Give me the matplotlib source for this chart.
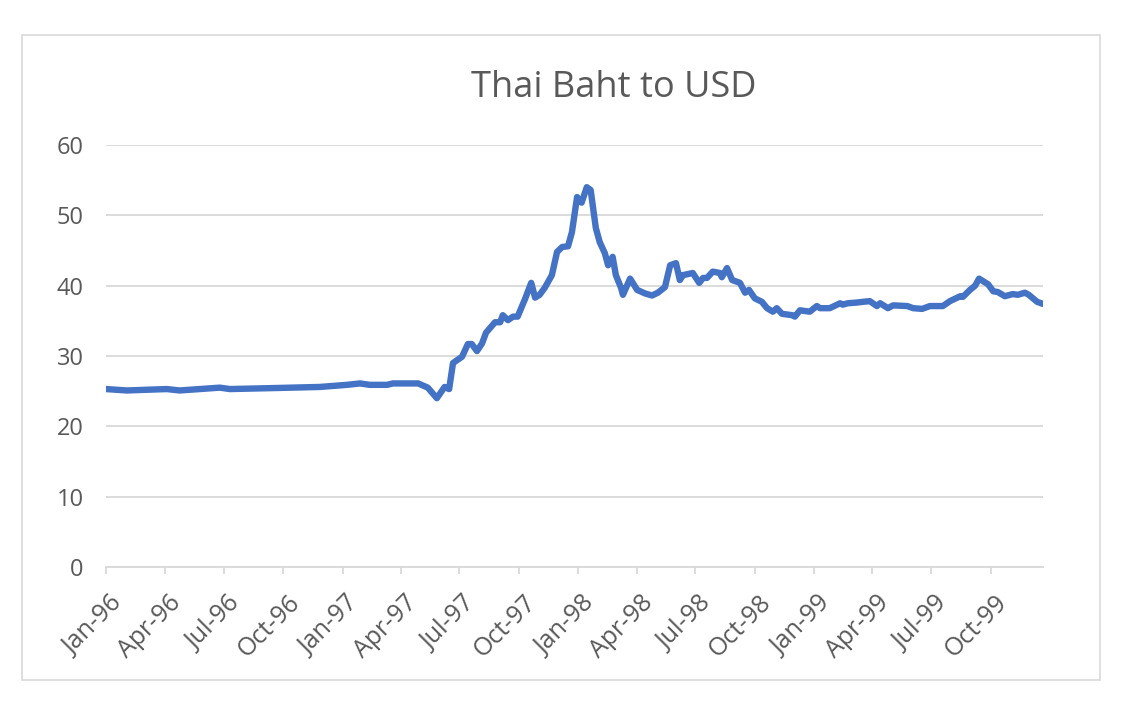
import matplotlib
matplotlib.use("Agg")
import matplotlib.pyplot as plt
import matplotlib.dates as mdates
from matplotlib.patches import Rectangle
from matplotlib.transforms import ScaledTranslation
import pandas as pd

# Data (weekly exchange rate, key points)
dates = [
    "1996-01-01", "1996-02-02", "1996-04-04", "1996-04-24", "1996-05-25", "1996-06-25",
    "1996-07-11", "1996-09-21", "1996-11-27", "1997-01-08", "1997-01-28", "1997-02-12",
    "1997-03-11", "1997-03-20", "1997-04-28", "1997-05-13", "1997-05-27", "1997-06-08",
    "1997-06-15", "1997-06-21", "1997-07-05", "1997-07-14", "1997-07-20", "1997-07-28",
    "1997-08-05", "1997-08-11", "1997-08-25", "1997-09-02", "1997-09-06", "1997-09-14",
    "1997-09-22", "1997-09-29", "1997-10-10", "1997-10-20", "1997-10-26", "1997-11-02",
    "1997-11-10", "1997-11-21", "1997-11-29", "1997-12-07", "1997-12-16", "1997-12-22",
    "1997-12-30", "1998-01-06", "1998-01-14", "1998-01-20", "1998-01-28", "1998-02-03",
    "1998-02-11", "1998-02-16", "1998-02-23", "1998-02-28", "1998-03-08", "1998-03-11",
    "1998-03-22", "1998-04-02", "1998-04-14", "1998-04-25", "1998-05-04", "1998-05-15",
    "1998-05-23", "1998-06-01", "1998-06-07", "1998-06-12", "1998-06-27", "1998-07-07",
    "1998-07-13", "1998-07-19", "1998-07-28", "1998-08-08", "1998-08-11", "1998-08-19",
    "1998-08-27", "1998-09-08", "1998-09-16", "1998-09-22", "1998-10-01", "1998-10-12",
    "1998-10-20", "1998-10-29", "1998-11-04", "1998-11-12", "1998-11-28", "1998-12-02",
    "1998-12-10", "1998-12-25", "1999-01-05", "1999-01-10", "1999-01-25", "1999-02-10",
    "1999-02-14", "1999-02-22", "1999-03-08", "1999-03-17", "1999-03-28", "1999-04-08",
    "1999-04-13", "1999-04-25", "1999-05-03", "1999-05-25", "1999-06-03", "1999-06-17",
    "1999-06-29", "1999-07-19", "1999-07-30", "1999-08-15", "1999-08-19", "1999-08-30",
    "1999-09-07", "1999-09-13", "1999-09-27", "1999-10-05", "1999-10-12", "1999-10-23",
    "1999-11-04", "1999-11-12", "1999-11-23", "1999-11-29", "1999-12-12", "1999-12-21",
]
baht = [
    25.3, 25.1, 25.3, 25.1, 25.3, 25.5,
    25.3, 25.45, 25.6, 25.9, 26.1, 25.9,
    25.9, 26.1, 26.1, 25.5, 24.0, 25.6,
    25.3, 29.0, 29.9, 31.7, 31.7, 30.7,
    31.8, 33.3, 34.8, 34.8, 35.8, 35.1,
    35.6, 35.6, 38.0, 40.4, 38.3, 38.7,
    39.7, 41.5, 44.8, 45.5, 45.6, 47.6,
    52.6, 51.8, 54.0, 53.6, 48.2, 46.2,
    44.6, 42.9, 44.1, 41.5, 39.7, 38.7,
    41.0, 39.4, 38.9, 38.6, 39.0, 39.8,
    42.9, 43.2, 40.8, 41.5, 41.8, 40.4,
    41.1, 41.1, 42.0, 41.8, 41.2, 42.5,
    40.8, 40.4, 39.0, 39.4, 38.2, 37.7,
    36.8, 36.3, 36.8, 36.0, 35.8, 35.6,
    36.5, 36.3, 37.1, 36.8, 36.8, 37.5,
    37.3, 37.5, 37.6, 37.7, 37.8, 37.1,
    37.5, 36.8, 37.2, 37.1, 36.8, 36.7,
    37.1, 37.1, 37.8, 38.5, 38.4, 39.4,
    40.0, 41.0, 40.2, 39.2, 39.1, 38.5,
    38.8, 38.7, 39.0, 38.7, 37.7, 37.4,
]
yticks = [0, 10, 20, 30, 40, 50, 60]

x = pd.to_datetime(dates)

plt.rcParams['font.family'] = ['Open Sans', 'DejaVu Sans']
grey_txt = '#595959'
grey_line = '#d9d9d9'

fig = plt.figure(figsize=(11.24, 7.16), dpi=100)
# Chart area border like Excel
fig.patches.append(Rectangle((22 / 1124, 1 - 680 / 716), (1100 - 22) / 1124, (680 - 35) / 716,
                             transform=fig.transFigure, fill=False, edgecolor=grey_line, lw=1.2))

ax = fig.add_axes([106 / 1124, 1 - 567 / 716, (1043 - 106) / 1124, (567 - 145) / 716])
ax.plot(x, baht, color='#4472C4', lw=4.6, solid_joinstyle='round', solid_capstyle='round')

ax.set_ylim(0, 60)
ax.set_yticks(yticks)
ax.set_xlim(pd.Timestamp("1996-01-01"), x[-1])
ax.xaxis.set_major_locator(mdates.MonthLocator(bymonth=[1, 4, 7, 10]))
ax.xaxis.set_major_formatter(mdates.DateFormatter('%b-%y'))

ax.grid(axis='y', color=grey_line, lw=1.3)
ax.set_axisbelow(True)
for s in ['top', 'right', 'left']:
    ax.spines[s].set_visible(False)
ax.spines['bottom'].set_color(grey_line)
ax.spines['bottom'].set_linewidth(1.3)

ax.tick_params(axis='y', length=0, pad=16, labelsize=17, labelcolor=grey_txt)
ax.tick_params(axis='x', length=5, width=1.3, color=grey_line, labelsize=18,
               labelcolor=grey_txt, pad=12)
shift = ScaledTranslation(4 / 100, 0, fig.dpi_scale_trans)
for lbl in ax.get_xticklabels():
    lbl.set_rotation(45)
    lbl.set_ha('right')
    lbl.set_rotation_mode('anchor')
    lbl.set_transform(lbl.get_transform() + shift)

fig.text(614 / 1124, 1 - 88 / 716, 'Thai Baht to USD', ha='center', va='center',
         fontsize=26, color=grey_txt)

fig.savefig('out.png', dpi=100)
